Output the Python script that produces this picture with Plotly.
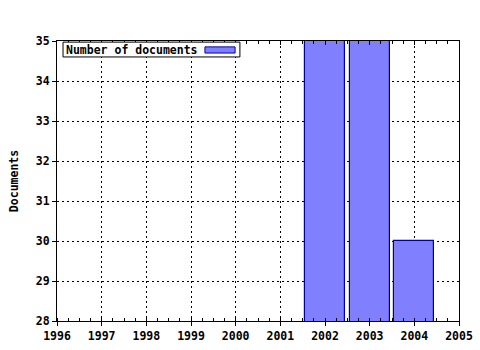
import plotly.graph_objects as go

years = [2002, 2003, 2004]
documents = [35, 35, 30]
series_name = "Number of documents"
x_ticks = list(range(1996, 2006))
y_ticks = list(range(28, 36))

FONT = "DejaVu Sans Mono"
BAR_FILL = "#8080ff"
BAR_LINE = "#0000a0"
FS = 11.5

fig = go.Figure()
fig.add_trace(go.Bar(
    x=years, y=documents, width=0.9, name=series_name,
    marker=dict(color=BAR_FILL, line=dict(color=BAR_LINE, width=1.2)),
    showlegend=False,
))

axis_common = dict(
    showline=True, linecolor="black", linewidth=1, mirror=True,
    showgrid=True, gridcolor="black", griddash="2px,3px", gridwidth=1,
    ticks="outside", ticklen=4, tickcolor="black", tickwidth=1,
    zeroline=False, automargin=False,
    tickfont=dict(family=FONT, size=FS, color="black", weight="bold"),
)

fig.update_xaxes(
    range=[1996, 2005], tickvals=x_ticks, ticktext=[str(v) for v in x_ticks],
    minor=dict(dtick=0.25, tick0=1996, ticks="inside", ticklen=3, tickcolor="black", showgrid=False),
    **axis_common,
)
fig.update_yaxes(
    range=[28, 35], tickvals=y_ticks, ticktext=[str(v) for v in y_ticks],
    title=dict(text="Documents", font=dict(family=FONT, size=FS, color="black", weight="bold"), standoff=14),
    **axis_common,
)

# top axis ticks (inside, major + minor) via an overlaid axis without labels
fig.add_trace(go.Scatter(x=[1996, 2005], y=[28, 28], xaxis="x2", mode="none",
                         showlegend=False, hoverinfo="skip"))
fig.update_layout(xaxis2=dict(
    overlaying="x", side="top", range=[1996, 2005], tickvals=x_ticks,
    showticklabels=False, showgrid=False, zeroline=False, showline=False,
    ticks="inside", ticklen=4, tickcolor="black", automargin=False,
    minor=dict(dtick=0.25, tick0=1996, ticks="inside", ticklen=3, tickcolor="black", showgrid=False),
))

# legend box (drawn manually: label with swatch on the right)
fig.add_shape(type="rect", xref="paper", yref="paper",
              x0=0.015, x1=0.455, y0=0.943, y1=0.996,
              line=dict(color="black", width=1), fillcolor="white", layer="above")
fig.add_shape(type="rect", xref="paper", yref="paper",
              x0=0.368, x1=0.443, y0=0.957, y1=0.979,
              line=dict(color=BAR_LINE, width=1), fillcolor=BAR_FILL, layer="above")
fig.add_annotation(xref="paper", yref="paper", x=0.018, y=0.969, xanchor="left", yanchor="middle",
                   text=series_name, showarrow=False,
                   font=dict(family=FONT, size=FS, color="black", weight="bold"))

fig.update_layout(
    width=480, height=350,
    margin=dict(l=57, r=21, t=41, b=29),
    paper_bgcolor="white", plot_bgcolor="white",
    bargap=0,
)

fig.write_html("out.html")
